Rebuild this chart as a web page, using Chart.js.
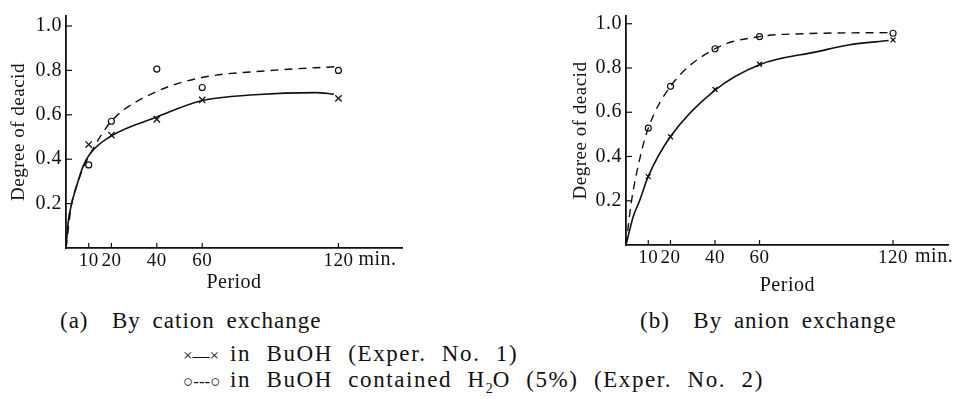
<!DOCTYPE html>
<html>
<head>
<meta charset="utf-8">
<script src="https://cdn.jsdelivr.net/npm/chart.js@4/dist/chart.umd.min.js"></script>
<style>
    body { margin: 0; background: #fff; width: 954px; height: 399px; position: relative; overflow: hidden; }
    .box { position: absolute; }
    .txt { position: absolute; font-family: "Liberation Serif", "Times New Roman", Times, serif; color: #111; white-space: nowrap; font-size: 23px; line-height: 26px; letter-spacing: 1px; word-spacing: 5px; }
    .leg { letter-spacing: 1.6px; word-spacing: 8px; }
    .mark { display: inline-block; width: 47px; font-size: 17px; letter-spacing: 0; word-spacing: 0; }
</style>
</head>
<body>
<div class="box" style="left:0;top:0;width:420px;height:300px"><canvas id="cationChart"></canvas></div>
<div class="box" style="left:560px;top:0;width:394px;height:300px"><canvas id="anionChart"></canvas></div>

<div class="txt" style="left:60px;top:308px">(a)&nbsp; By cation exchange</div>
<div class="txt" style="left:640px;top:308px">(b)&nbsp; By anion exchange</div>
<div class="txt leg" style="left:183px;top:341px"><span class="mark">×—×</span>in BuOH (Exper. No. 1)</div>
<div class="txt leg" style="left:183px;top:367px"><span class="mark">○---○</span>in BuOH contained H<sub style="font-size:14px;line-height:0;letter-spacing:0">2</sub>O (5%) (Exper. No. 2)</div>

<script>
// reaction period, min.
const periods = [10, 20, 40, 60, 120];
const xTicks = [10, 20, 40, 60, 120];
const yTicks = [0.2, 0.4, 0.6, 0.8, 1.0];

// (a) cation exchange - measured points
const cationBuOH = [0.466, 0.508, 0.58, 0.667, 0.674];
const cationWet = [0.374, 0.571, 0.806, 0.723, 0.80];
// (a) fitted curves
const cationSolidT = [0, 1, 2.5, 4.7, 7.6, 10.6, 20, 40, 60, 83, 110, 118];
const cationSolidY = [0, 0.12, 0.2, 0.28, 0.37, 0.425, 0.505, 0.59, 0.664, 0.69, 0.70, 0.693];
const cationDashT = [0, 2.5, 4.7, 7.6, 10, 15, 20.7, 40, 60, 88, 121];
const cationDashY = [0, 0.2, 0.28, 0.36, 0.41, 0.50, 0.58, 0.705, 0.768, 0.798, 0.818];

// (b) anion exchange - measured points
const anionBuOH = [0.309, 0.489, 0.703, 0.817, 0.927];
const anionWet = [0.528, 0.717, 0.887, 0.942, 0.957];
// (b) fitted curves
const anionSolidT = [0, 3.2, 6.1, 10, 20, 40, 60, 86, 100, 118];
const anionSolidY = [0, 0.127, 0.2, 0.31, 0.49, 0.70, 0.815, 0.874, 0.904, 0.924];
const anionDashT = [0, 2.5, 6.2, 10, 20, 40, 60, 80, 120];
const anionDashY = [0, 0.2, 0.39, 0.528, 0.717, 0.887, 0.942, 0.955, 0.96];

const serif = "'Liberation Serif', 'Times New Roman', Times, serif";
const ink = "#111";

function pts(xs, ys) {
    return xs.map((x, i) => ({ x: x, y: ys[i] }));
}

// old-style typesetting: a little extra space between letters
const spacing = {
    id: "spacing",
    beforeLayout(chart) { chart.ctx.letterSpacing = "0.5px"; },
    beforeDraw(chart) { chart.ctx.letterSpacing = "0.5px"; }
};

// short tick marks pointing into the plot, plus the "min." unit
const innerTicks = {
    id: "innerTicks",
    afterDraw(chart, args, opts) {
        const ctx = chart.ctx;
        const xs = chart.scales.x;
        const ys = chart.scales.y;
        ctx.save();
        ctx.strokeStyle = ink;
        ctx.lineWidth = 1.2;
        xTicks.forEach(v => {
            const px = xs.getPixelForValue(v);
            ctx.beginPath();
            ctx.moveTo(px, xs.top);
            ctx.lineTo(px, xs.top - 5);
            ctx.stroke();
        });
        yTicks.forEach(v => {
            const py = ys.getPixelForValue(v);
            ctx.beginPath();
            ctx.moveTo(ys.right, py);
            ctx.lineTo(ys.right + 6, py);
            ctx.stroke();
        });
        ctx.fillStyle = ink;
        ctx.font = "20px " + serif;
        ctx.textBaseline = "middle";
        ctx.fillText("min.", xs.getPixelForValue(120) + opts.gap, xs.top + 12);
        ctx.restore();
    }
};

function makeChart(canvasId, cfg) {

    const canvas = document.getElementById(canvasId);

    return new Chart(canvas, {
        type: "scatter",
        data: {
            datasets: [
                {
                    data: pts(cfg.solidT, cfg.solidY),
                    showLine: true,
                    borderColor: ink,
                    borderWidth: 1.6,
                    pointRadius: 0,
                    cubicInterpolationMode: "monotone"
                },
                {
                    data: pts(cfg.dashT, cfg.dashY),
                    showLine: true,
                    borderColor: ink,
                    borderWidth: 1.4,
                    borderDash: [8, 6],
                    pointRadius: 0,
                    cubicInterpolationMode: "monotone"
                },
                {
                    data: pts(periods, cfg.crosses),
                    pointStyle: "crossRot",
                    pointRadius: cfg.crossSize,
                    borderColor: ink,
                    borderWidth: 1.3
                },
                {
                    data: pts(periods, cfg.circles),
                    pointStyle: "circle",
                    pointRadius: 3,
                    backgroundColor: "#fff",
                    borderColor: ink,
                    borderWidth: 1.2
                }
            ]
        },
        options: {
            responsive: true,
            maintainAspectRatio: false,
            animation: false,
            layout: {
                padding: { top: 14, right: cfg.padRight, left: 0, bottom: 0 }
            },
            plugins: {
                legend: { display: false },
                tooltip: { enabled: false },
                innerTicks: { gap: cfg.minGap }
            },
            scales: {
                x: {
                    type: "linear",
                    min: 0,
                    max: cfg.xMax,
                    afterFit: scale => { scale.height = cfg.xHeight; },
                    afterBuildTicks: scale => { scale.ticks = xTicks.map(v => ({ value: v })); },
                    grid: { display: false, drawTicks: false },
                    border: { display: true, color: ink, width: 1.8 },
                    ticks: {
                        color: ink,
                        padding: 2,
                        maxRotation: 0,
                        autoSkip: false,
                        font: { family: serif, size: 19 },
                        callback: v => String(v)
                    },
                    title: {
                        display: true,
                        text: "Period",
                        color: ink,
                        font: { family: serif, size: 20 },
                        padding: { top: 0, bottom: cfg.titleBottom }
                    }
                },
                y: {
                    type: "linear",
                    min: 0,
                    max: cfg.yMax,
                    afterFit: scale => { scale.width = 66; },
                    afterBuildTicks: scale => { scale.ticks = yTicks.map(v => ({ value: v })); },
                    grid: { display: false, drawTicks: false },
                    border: { display: true, color: ink, width: 1.8 },
                    ticks: {
                        color: ink,
                        padding: 4,
                        autoSkip: false,
                        font: { family: serif, size: 20 },
                        callback: v => v.toFixed(1)
                    },
                    title: {
                        display: true,
                        text: "Degree of deacid",
                        color: ink,
                        font: { family: serif, size: 19 },
                        padding: { top: cfg.titleLeft, bottom: 0 }
                    }
                }
            }
        },
        plugins: [spacing, innerTicks]
    });

}

makeChart("cationChart", {
    solidT: cationSolidT, solidY: cationSolidY,
    dashT: cationDashT, dashY: cationDashY,
    crosses: cationBuOH, circles: cationWet,
    crossSize: 4.5, xMax: 148, yMax: 1.045,
    padRight: 18, xHeight: 52, titleBottom: 5, titleLeft: 8, minGap: 20
});

makeChart("anionChart", {
    solidT: anionSolidT, solidY: anionSolidY,
    dashT: anionDashT, dashY: anionDashY,
    crosses: anionBuOH, circles: anionWet,
    crossSize: 3.5, xMax: 145, yMax: 1.035,
    padRight: 1, xHeight: 55, titleBottom: 2, titleLeft: 10, minGap: 22
});
</script>
</body>
</html>
